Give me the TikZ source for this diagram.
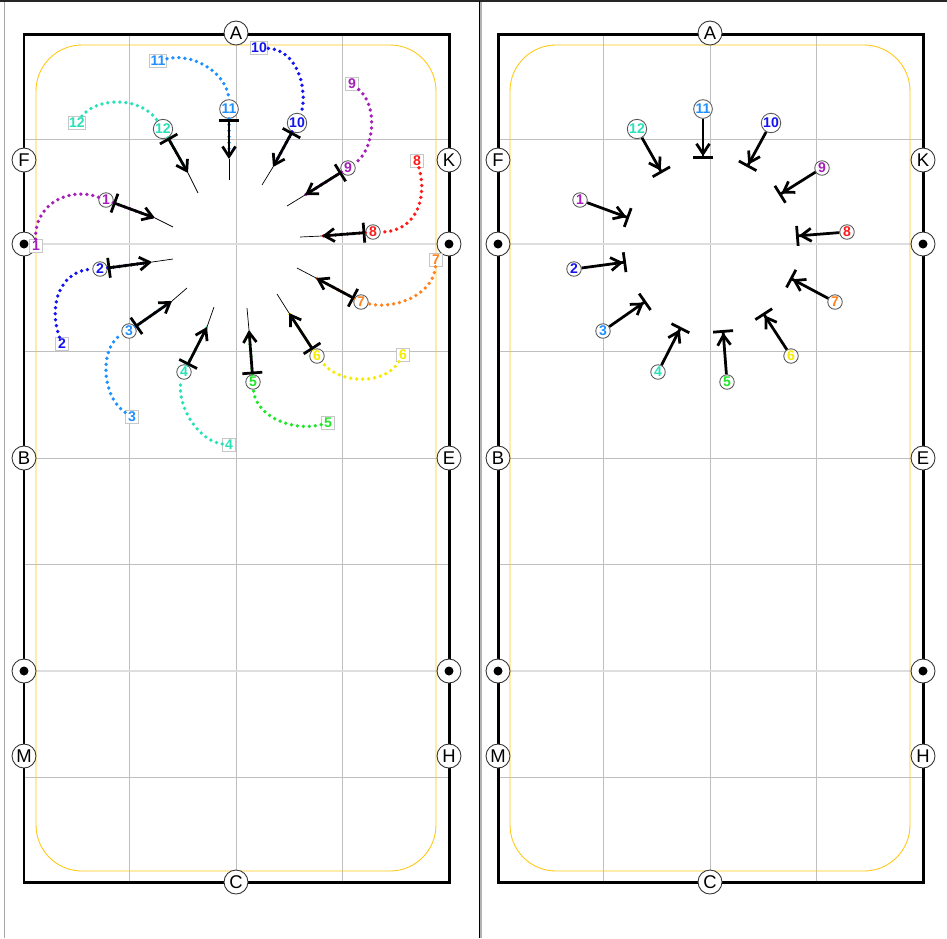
\documentclass[tikz,border=0pt]{standalone}
\usepackage{fontspec}
\setmainfont{Liberation Sans}
\usetikzlibrary{arrows.meta}
\definecolor{trackyellow}{RGB}{255,200,20}
\definecolor{c1}{RGB}{165,30,185}
\definecolor{c2}{RGB}{20,20,240}
\definecolor{c3}{RGB}{30,144,255}
\definecolor{c4}{RGB}{40,225,185}
\definecolor{c5}{RGB}{30,230,40}
\definecolor{c6}{RGB}{245,235,0}
\definecolor{c7}{RGB}{255,130,30}
\definecolor{c8}{RGB}{255,25,25}
\begin{document}
\begin{tikzpicture} [
    x=0.02cm, y=-0.02cm,
    arena/.style={draw, line width=0.06cm},
    track/.style={draw=trackyellow, line width=0.5pt, rounded corners=0.92cm},
    gridln/.style={draw=black!25, line width=0.5pt},
    midln/.style={draw=black!13, line width=0.04cm},
    ltr/.style={circle, draw=black!80, fill=white, line width=0.5pt, minimum size=0.48cm,
      inner sep=0pt, font=\fontsize{10.5}{12}\selectfont},
    dotltr/.style={ltr, path picture={\fill[black] (path picture bounding box.center) circle (0.09cm);}},
    startlbl/.style={draw=black!22, fill=white, line width=0.6pt, minimum size=0.25cm,
      inner sep=0.6pt, font=\fontsize{8}{8}\selectfont\bfseries, text=#1},
    poslbl/.style={circle, draw=black!65, fill=white, line width=0.5pt, minimum size=0.29cm,
      inner sep=0.2pt, font=\fontsize{8}{8}\selectfont\bfseries, text=#1},
    trail/.style={draw=#1, line width=0.075cm, line cap=round, dash pattern=on 0pt off 0.12cm},
    move/.style={draw, line width=0.055cm,
      {Bar[width=0.4cm]}-{Straight Barb[length=0.2cm, width=0.26cm]}},
    halt/.style={draw, line width=0.055cm,
      -{Straight Barb[length=0.2cm, width=0.26cm] Bar[width=0.4cm]}},
    ext/.style={draw, line width=0.4pt}
  ]
  \useasboundingbox (0,0) rectangle (947,938);
  % frame
  \draw[line width=0.04cm, black!85] (0,1) -- (947,1);
  \draw[black!35, line width=0.6pt] (4.5,2) -- (4.5,938);
  \draw[line width=0.5pt] (479,1) -- (479,938);
  \draw[black!30, line width=0.6pt] (481,2) -- (481,938);

  % left arena
  \draw[gridln] (129,34) -- (129,882) (236,34) -- (236,882) (342,34) -- (342,882)
    (24,139) -- (449,139) (24,351) -- (449,351) (24,458) -- (449,458)
    (24,564) -- (449,564) (24,777) -- (449,777);
  \draw[midln] (24,244) -- (449,244) (24,671) -- (449,671);
  \draw[track] (36,45) rectangle (436,871);
  \draw[arena] (24,34) rectangle (449,882);
  \node[ltr] (lA) at (236,33) {A};
  \node[ltr] (lF) at (24,160) {F};
  \node[ltr] (lK) at (449,160) {K};
  \node[dotltr] (ld1) at (24,244) {};
  \node[dotltr] (ld2) at (449,244) {};
  \node[ltr] (lB) at (24,458) {B};
  \node[ltr] (lE) at (449,458) {E};
  \node[dotltr] (ld3) at (24,671) {};
  \node[dotltr] (ld4) at (449,671) {};
  \node[ltr] (lM) at (24,756) {M};
  \node[ltr] (lH) at (449,756) {H};
  \node[ltr] (lC) at (236,882) {C};

  % right arena
  \draw[gridln] (603,34) -- (603,882) (710,34) -- (710,882) (816,34) -- (816,882)
    (498,139) -- (923,139) (498,351) -- (923,351) (498,458) -- (923,458)
    (498,564) -- (923,564) (498,777) -- (923,777);
  \draw[midln] (498,244) -- (923,244) (498,671) -- (923,671);
  \draw[track] (510,45) rectangle (910,871);
  \draw[arena] (498,34) rectangle (923,882);
  \node[ltr] (rA) at (710,33) {A};
  \node[ltr] (rF) at (498,160) {F};
  \node[ltr] (rK) at (923,160) {K};
  \node[dotltr] (rd1) at (498,244) {};
  \node[dotltr] (rd2) at (923,244) {};
  \node[ltr] (rB) at (498,458) {B};
  \node[ltr] (rE) at (923,458) {E};
  \node[dotltr] (rd3) at (498,671) {};
  \node[dotltr] (rd4) at (923,671) {};
  \node[ltr] (rM) at (498,756) {M};
  \node[ltr] (rH) at (923,756) {H};
  \node[ltr] (rC) at (710,882) {C};

  % left: start labels
  \node[startlbl=c1] (s1) at (36,246) {1};
  \node[startlbl=c2] (s2) at (62,344) {2};
  \node[startlbl=c3] (s3) at (132,417) {3};
  \node[startlbl=c4] (s4) at (229,445) {4};
  \node[startlbl=c5] (s5) at (328,423) {5};
  \node[startlbl=c6] (s6) at (403,355) {6};
  \node[startlbl=c7] (s7) at (436,260) {7};
  \node[startlbl=c8] (s8) at (417,161) {8};
  \node[startlbl=c1] (s9) at (352,84) {9};
  \node[startlbl=c2] (s10) at (259,48) {10};
  \node[startlbl=c3] (s11) at (158,61) {11};
  \node[startlbl=c4] (s12) at (77,123) {12};
  % left: positions
  \node[poslbl=c1] (p1) at (106,200) {1};
  \node[poslbl=c2] (p2) at (100,269) {2};
  \node[poslbl=c3] (p3) at (129,331) {3};
  \node[poslbl=c4] (p4) at (184,372) {4};
  \node[poslbl=c5] (p5) at (253,382) {5};
  \node[poslbl=c6] (p6) at (317,356) {6};
  \node[poslbl=c7] (p7) at (361,302) {7};
  \node[poslbl=c8] (p8) at (373,232) {8};
  \node[poslbl=c1] (p9) at (348,168) {9};
  \node[poslbl=c2] (p10) at (297,123) {10};
  \node[poslbl=c3] (p11) at (229,109) {11};
  \node[poslbl=c4] (p12) at (163,129) {12};
  % left: tips and ends
  \coordinate (q1) at (155,218);  \coordinate (e1) at (173,227);
  \coordinate (q2) at (152,262);  \coordinate (e2) at (173,259);
  \coordinate (q3) at (172,301);  \coordinate (e3) at (187,288);
  \coordinate (q4) at (207,327);  \coordinate (e4) at (214,307);
  \coordinate (q5) at (249,330);  \coordinate (e5) at (247,308);
  \coordinate (q6) at (289,313);  \coordinate (e6) at (277,294);
  \coordinate (q7) at (316,278);  \coordinate (e7) at (297,268);
  \coordinate (q8) at (322,236);  \coordinate (e8) at (300,237);
  \coordinate (q9) at (305,195);  \coordinate (e9) at (287,206);
  \coordinate (q10) at (273,167); \coordinate (e10) at (262,185);
  \coordinate (q11) at (229,159); \coordinate (e11) at (229,180);
  \coordinate (q12) at (188,173); \coordinate (e12) at (198,193);

  % left: trails
  \draw[trail=c1] (s1) .. controls (34,205) and (68,186) .. (p1) -- (q1);
  \draw[trail=c2] (s2) .. controls (48,305) and (60,270) .. (p2) -- (q2);
  \draw[trail=c3] (s3) .. controls (100,395) and (100,345) .. (p3) -- (q3);
  \draw[trail=c4] (s4) .. controls (195,440) and (175,400) .. (p4) -- (q4);
  \draw[trail=c5] (s5) .. controls (290,432) and (255,415) .. (p5) -- (q5);
  \draw[trail=c6] (s6) .. controls (385,385) and (340,385) .. (p6) -- (q6);
  \draw[trail=c7] (s7) .. controls (433,295) and (395,310) .. (p7) -- (q7);
  \draw[trail=c8] (s8) .. controls (428,200) and (415,232) .. (p8) -- (q8);
  \draw[trail=c1] (s9) .. controls (378,105) and (375,150) .. (p9) -- (q9);
  \draw[trail=c2] (s10) .. controls (300,50) and (308,95) .. (p10) -- (q10);
  \draw[trail=c3] (s11) .. controls (195,52) and (228,75) .. (p11) -- (q11);
  \draw[trail=c4] (s12) .. controls (95,98) and (140,95) .. (p12) -- (q12);

  % left: moves
  \draw[move] (p1) -- (q1);   \draw[ext] (q1) -- (e1);
  \draw[move] (p2) -- (q2);   \draw[ext] (q2) -- (e2);
  \draw[move] (p3) -- (q3);   \draw[ext] (q3) -- (e3);
  \draw[move] (p4) -- (q4);   \draw[ext] (q4) -- (e4);
  \draw[move] (p5) -- (q5);   \draw[ext] (q5) -- (e5);
  \draw[move] (p6) -- (q6);   \draw[ext] (q6) -- (e6);
  \draw[move] (p7) -- (q7);   \draw[ext] (q7) -- (e7);
  \draw[move] (p8) -- (q8);   \draw[ext] (q8) -- (e8);
  \draw[move] (p9) -- (q9);   \draw[ext] (q9) -- (e9);
  \draw[move] (p10) -- (q10); \draw[ext] (q10) -- (e10);
  \draw[move] (p11) -- (q11); \draw[ext] (q11) -- (e11);
  \draw[move] (p12) -- (q12); \draw[ext] (q12) -- (e12);

  % right: positions
  \node[poslbl=c1] (rp1) at (580,200) {1};
  \node[poslbl=c2] (rp2) at (574,269) {2};
  \node[poslbl=c3] (rp3) at (603,331) {3};
  \node[poslbl=c4] (rp4) at (658,372) {4};
  \node[poslbl=c5] (rp5) at (727,382) {5};
  \node[poslbl=c6] (rp6) at (791,356) {6};
  \node[poslbl=c7] (rp7) at (835,302) {7};
  \node[poslbl=c8] (rp8) at (847,232) {8};
  \node[poslbl=c1] (rp9) at (822,168) {9};
  \node[poslbl=c2] (rp10) at (771,123) {10};
  \node[poslbl=c3] (rp11) at (703,109) {11};
  \node[poslbl=c4] (rp12) at (637,129) {12};
  \coordinate (rq1) at (629,218);
  \coordinate (rq2) at (626,262);
  \coordinate (rq3) at (646,301);
  \coordinate (rq4) at (681,327);
  \coordinate (rq5) at (723,330);
  \coordinate (rq6) at (763,313);
  \coordinate (rq7) at (790,278);
  \coordinate (rq8) at (796,236);
  \coordinate (rq9) at (779,195);
  \coordinate (rq10) at (747,167);
  \coordinate (rq11) at (703,159);
  \coordinate (rq12) at (662,173);

  % right: halts
  \draw[halt] (rp1) -- (rq1);
  \draw[halt] (rp2) -- (rq2);
  \draw[halt] (rp3) -- (rq3);
  \draw[halt] (rp4) -- (rq4);
  \draw[halt] (rp5) -- (rq5);
  \draw[halt] (rp6) -- (rq6);
  \draw[halt] (rp7) -- (rq7);
  \draw[halt] (rp8) -- (rq8);
  \draw[halt] (rp9) -- (rq9);
  \draw[halt] (rp10) -- (rq10);
  \draw[halt] (rp11) -- (rq11);
  \draw[halt] (rp12) -- (rq12);
\end{tikzpicture}
\end{document}
